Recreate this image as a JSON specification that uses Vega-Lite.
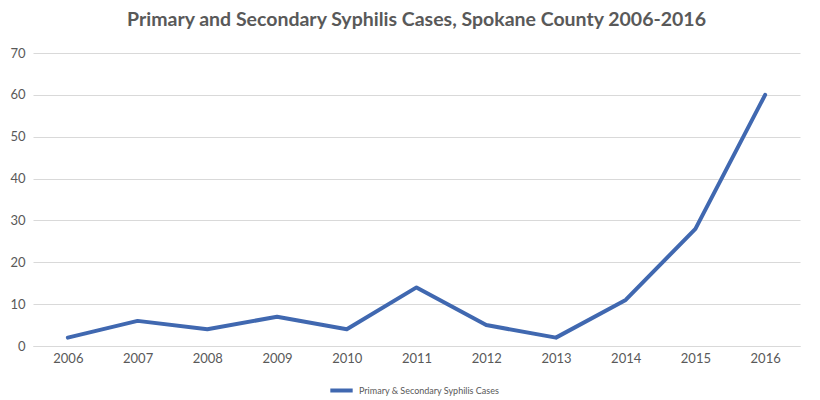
{
  "$schema": "https://vega.github.io/schema/vega-lite/v6.json",
  "autosize": "none",
  "width": 767,
  "height": 293,
  "padding": {"left": 33, "top": 53, "right": 20, "bottom": 54},
  "background": "white",
  "config": {
    "font": "Lato",
    "view": {"stroke": null}
  },
  "title": {
    "text": "Primary and Secondary Syphilis Cases, Spokane County 2006-2016",
    "font": "Lato",
    "fontSize": 19.5,
    "fontWeight": "bold",
    "color": "#595959",
    "anchor": "middle",
    "frame": "group",
    "offset": 17
  },
  "data": {
    "values": [
      {"year": "2006", "series": "Primary & Secondary Syphilis Cases", "cases": 2},
      {"year": "2007", "series": "Primary & Secondary Syphilis Cases", "cases": 6},
      {"year": "2008", "series": "Primary & Secondary Syphilis Cases", "cases": 4},
      {"year": "2009", "series": "Primary & Secondary Syphilis Cases", "cases": 7},
      {"year": "2010", "series": "Primary & Secondary Syphilis Cases", "cases": 4},
      {"year": "2011", "series": "Primary & Secondary Syphilis Cases", "cases": 14},
      {"year": "2012", "series": "Primary & Secondary Syphilis Cases", "cases": 5},
      {"year": "2013", "series": "Primary & Secondary Syphilis Cases", "cases": 2},
      {"year": "2014", "series": "Primary & Secondary Syphilis Cases", "cases": 11},
      {"year": "2015", "series": "Primary & Secondary Syphilis Cases", "cases": 28},
      {"year": "2016", "series": "Primary & Secondary Syphilis Cases", "cases": 60}
    ]
  },
  "mark": {"type": "line", "strokeWidth": 4, "strokeCap": "round", "strokeJoin": "round"},
  "encoding": {
    "x": {
      "field": "year",
      "type": "ordinal",
      "scale": {"type": "point", "padding": 0.5},
      "axis": {
        "title": null,
        "labelAngle": 0,
        "labelFontSize": 13,
        "labelColor": "#595959",
        "labelPadding": 6,
        "ticks": false,
        "domainColor": "#d9d9d9",
        "grid": false
      }
    },
    "y": {
      "field": "cases",
      "type": "quantitative",
      "scale": {"domain": [0, 70]},
      "axis": {
        "title": null,
        "values": [0, 10, 20, 30, 40, 50, 60, 70],
        "labelFontSize": 13,
        "labelColor": "#595959",
        "labelPadding": 8,
        "ticks": false,
        "domain": false,
        "gridColor": "#d9d9d9"
      }
    },
    "color": {
      "field": "series",
      "type": "nominal",
      "scale": {"range": ["#4068b0"]},
      "legend": {
        "title": null,
        "orient": "none",
        "legendX": 295,
        "legendY": 324,
        "direction": "horizontal",
        "symbolType": "stroke",
        "symbolStrokeWidth": 4,
        "symbolSize": 500,
        "labelFontSize": 9,
        "labelColor": "#595959"
      }
    }
  }
}
